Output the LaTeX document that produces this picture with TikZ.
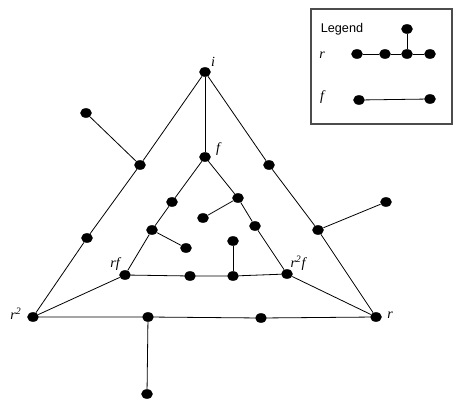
\documentclass[tikz,border=0pt]{standalone}
\usepackage{fontspec}
\setmainfont{Liberation Serif}
\setsansfont{Liberation Sans}
\usetikzlibrary{shapes.geometric}
\tikzset{
  dot/.style={ellipse, fill=black, inner sep=0pt, minimum width=8.8pt, minimum height=7.2pt},
  edge/.style={line width=0.6pt},
  lab/.style={font=\itshape\fontsize{10.5}{12}\selectfont, inner sep=0pt}
}
\begin{document}
\begin{tikzpicture}[x=0.75pt,y=-0.75pt]
\useasboundingbox (0,0) rectangle (453,399);
% outer triangle
\node[dot] (i) at (205,72) {};
\node[dot] (r2) at (33,317) {};
\node[dot] (r) at (376,317) {};
\node[dot] (l1) at (140,165) {};
\node[dot] (l2) at (87,238) {};
\node[dot] (lp) at (86,113) {};
\node[dot] (ra1) at (269,165) {};
\node[dot] (ra2) at (318,230) {};
\node[dot] (rp) at (386,202) {};
\node[dot] (b1) at (148,317) {};
\node[dot] (b2) at (261,318) {};
\node[dot] (bp) at (147,394) {};
% inner triangle
\node[dot] (f) at (205,157) {};
\node[dot] (rf) at (125,275) {};
\node[dot] (r2f) at (287,274) {};
\node[dot] (m1) at (190,276) {};
\node[dot] (m2) at (233,276) {};
\node[dot] (mp) at (233,241) {};
\node[dot] (il1) at (172,202) {};
\node[dot] (il2) at (152,230) {};
\node[dot] (ilp) at (186,248) {};
\node[dot] (ir1) at (238,198) {};
\node[dot] (ir2) at (255,226) {};
\node[dot] (irp) at (203,218) {};
% edges
\draw[edge] (i) -- (l1) -- (l2) -- (r2);
\draw[edge] (l1) -- (lp);
\draw[edge] (i) -- (ra1) -- (ra2) -- (r);
\draw[edge] (ra2) -- (rp);
\draw[edge] (r2) -- (b1) -- (b2) -- (r);
\draw[edge] (b1) -- (bp);
\draw[edge] (i) -- (f);
\draw[edge] (r2) -- (rf);
\draw[edge] (r) -- (r2f);
\draw[edge] (rf) -- (m1) -- (m2) -- (r2f);
\draw[edge] (m2) -- (mp);
\draw[edge] (f) -- (il1) -- (il2) -- (rf);
\draw[edge] (il2) -- (ilp);
\draw[edge] (f) -- (ir1) -- (ir2) -- (r2f);
\draw[edge] (ir1) -- (irp);
% labels
\node[lab] (li) at (213,62) {i};
\node[lab] (lf) at (218,149) {f};
\node[lab] (lrf) at (115,264) {rf};
\node[lab] (lr2f) at (298,263) {r\textsuperscript{2}f};
\node[lab] (lr2) at (16,314) {r\textsuperscript{2}};
\node[lab] (lr) at (390,315) {r};
% legend
\draw[black!70, line width=1pt] (311,9) rectangle (452,124);
\node[font=\sffamily\fontsize{9.5}{11}\selectfont, inner sep=0pt] (lg) at (342,29) {Legend};
\node[lab] (lgr) at (322,55) {r};
\node[lab] (lgf) at (322,97) {f};
\node[dot] (g1) at (357,54) {};
\node[dot] (g2) at (385,54) {};
\node[dot] (g3) at (407,54) {};
\node[dot] (g4) at (430,54) {};
\node[dot] (gt) at (407,29) {};
\node[dot] (h1) at (359,100) {};
\node[dot] (h2) at (430,99) {};
\draw[edge] (g1) -- (g2) -- (g3) -- (g4);
\draw[edge] (g3) -- (gt);
\draw[edge] (h1) -- (h2);
\end{tikzpicture}
\end{document}
